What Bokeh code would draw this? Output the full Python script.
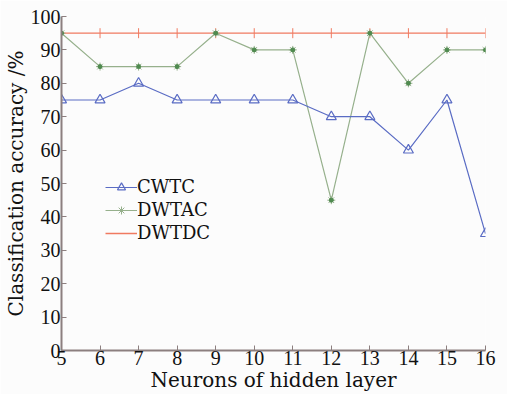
import math
from bokeh.plotting import figure
from bokeh.models import Range1d, FixedTicker, Legend, LegendItem
from bokeh.embed import file_html
from bokeh.resources import INLINE

neurons = [5, 6, 7, 8, 9, 10, 11, 12, 13, 14, 15, 16]
cwtc = [75, 75, 80, 75, 75, 75, 75, 70, 70, 60, 75, 35]
dwtac = [95, 85, 85, 85, 95, 90, 90, 45, 95, 80, 90, 90]
dwtdc = [95, 95, 95, 95, 95, 95, 95, 95, 95, 95, 95, 95]
y_ticks = [0, 10, 20, 30, 40, 50, 60, 70, 80, 90, 100]

TICKFONT = "Liberation Serif"
FONT = "DejaVu Serif"
p = figure(width=507, height=394, output_backend="svg", toolbar_location=None,
           x_range=Range1d(5, 16), y_range=Range1d(0, 100),
           min_border_left=61, min_border_right=22, min_border_top=16, min_border_bottom=41,
           background_fill_color="#fcfcfc", border_fill_color="#fcfcfc")
p.outline_line_color = None
p.grid.visible = False

red = "#f07a60"
green = "#96b08c"
gdark = "#4f8a4f"
blue = "#5a6cc4"

r1 = p.line(neurons, dwtdc, color=red, line_width=1.3)
r2 = p.scatter(neurons, dwtdc, marker="dash", angle=math.pi / 2, size=10, color=red)

r3 = p.line(neurons, dwtac, color=green, line_width=1.2)
r4 = p.scatter(neurons, dwtac, marker="asterisk", size=8, line_color=green)
r5 = p.scatter(neurons, dwtac, marker="circle", size=4, fill_color=gdark, line_color=gdark)

r6 = p.line(neurons, cwtc, color=blue, line_width=1.2)
r7 = p.scatter(neurons, cwtc, marker="triangle", size=10, line_color=blue, fill_color=None,
               line_width=1.2)

for ax in (p.xaxis[0], p.yaxis[0]):
    ax.axis_line_color = "#8c7f7f"
    ax.axis_line_width = 2
    ax.major_tick_line_color = "#8c7f7f"
    ax.major_tick_in = 5
    ax.major_tick_out = 0
    ax.minor_tick_line_color = None
    ax.major_label_text_font = TICKFONT
    ax.major_label_text_font_size = "20px"
    ax.major_label_text_color = "#111111"
    ax.axis_label_text_font = FONT
    ax.axis_label_text_font_size = "20px"
    ax.axis_label_text_font_style = "normal"
    ax.axis_label_text_color = "#111111"

p.xaxis[0].ticker = FixedTicker(ticks=neurons)
p.yaxis[0].ticker = FixedTicker(ticks=y_ticks)
p.xaxis[0].axis_label = "Neurons of hidden layer"
p.yaxis[0].axis_label = "Classification accuracy /%"
p.xaxis[0].major_label_standoff = 0
p.xaxis[0].axis_label_standoff = 0
p.yaxis[0].major_label_standoff = 1
p.yaxis[0].axis_label_standoff = 0

leg = Legend(items=[
    LegendItem(label="CWTC", renderers=[r6, r7]),
    LegendItem(label="DWTAC", renderers=[r3, r4]),
    LegendItem(label="DWTDC", renderers=[r1]),
])
leg.location = (44, 107)
leg.background_fill_alpha = 0
leg.border_line_color = None
leg.label_text_font = FONT
leg.label_text_font_size = "18px"
leg.label_text_color = "#111111"
leg.glyph_width = 32
leg.glyph_height = 20
leg.label_height = 20
leg.spacing = 2
leg.padding = 2
leg.label_standoff = 0
leg.margin = 0
p.add_layout(leg, "center")

open("out.html", "w").write(file_html(p, INLINE))
